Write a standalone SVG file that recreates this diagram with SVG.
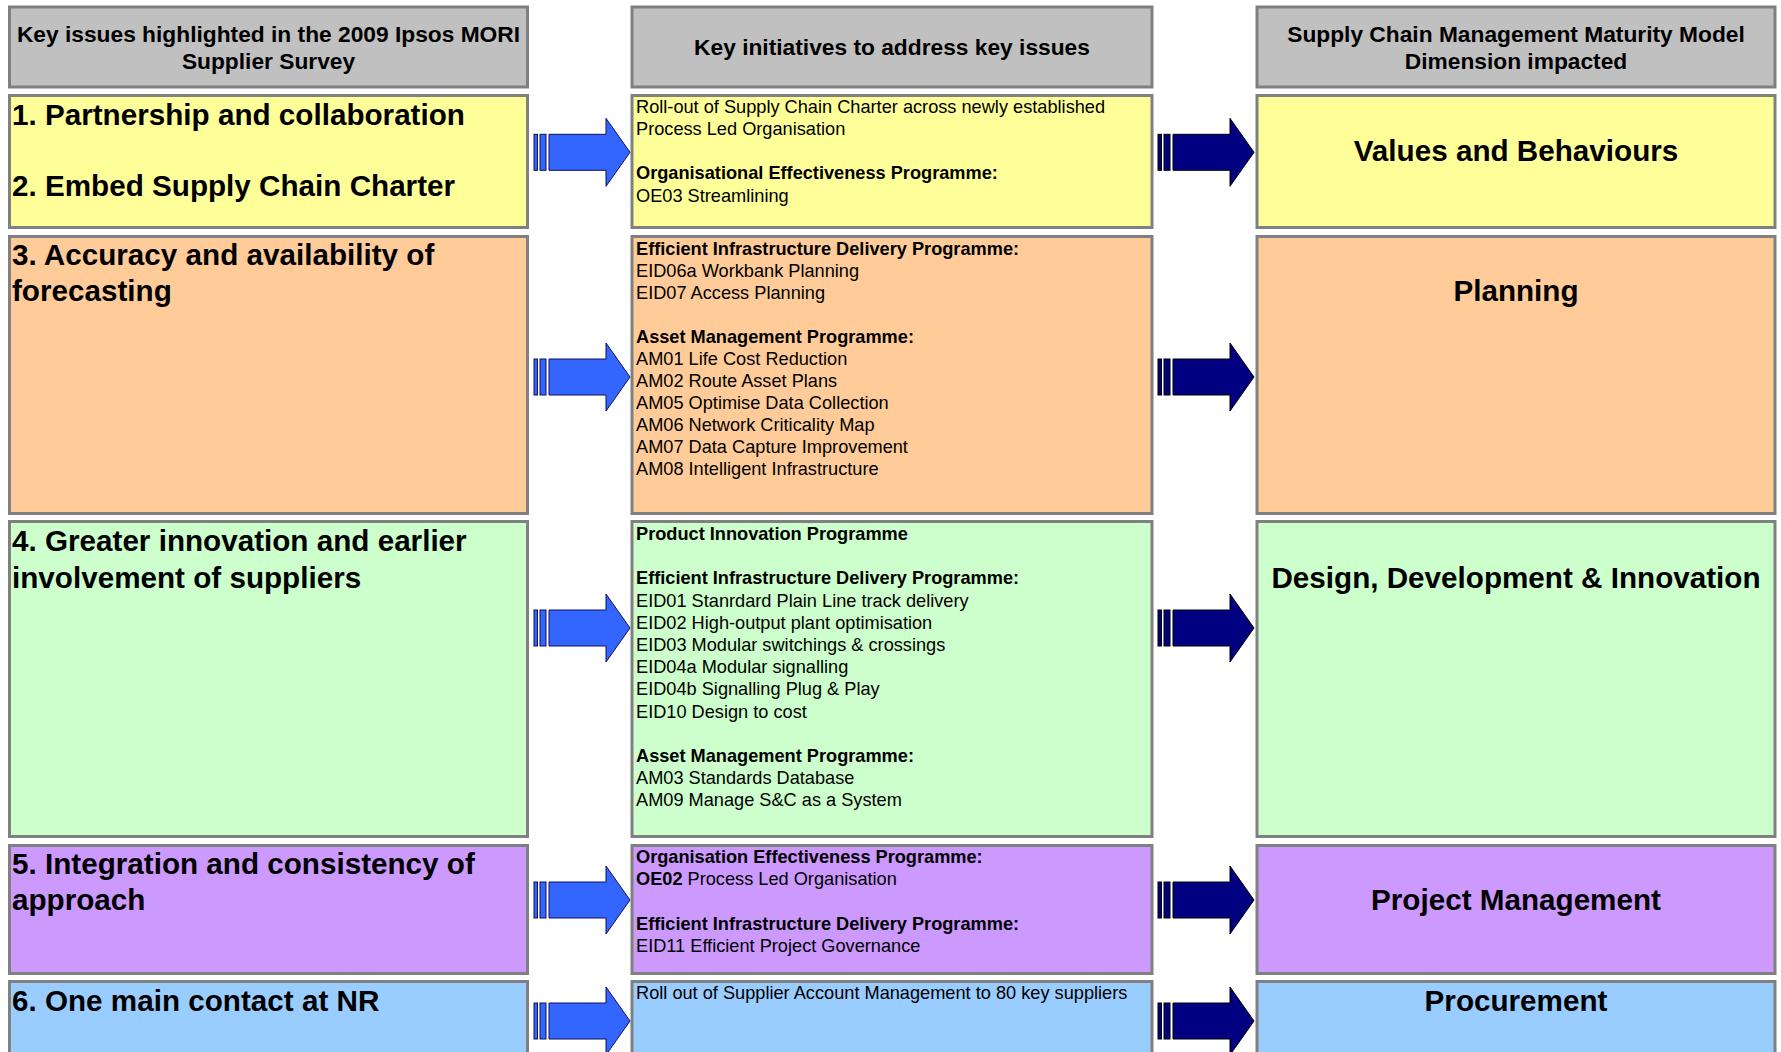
<svg xmlns="http://www.w3.org/2000/svg" xmlns:xlink="http://www.w3.org/1999/xlink" width="1781" height="1052" viewBox="0 0 1781 1052">
<style>
.box{stroke:#808080;stroke-width:3}
.hdr{fill:#C0C0C0}
.yel{fill:#FFFF99}
.org{fill:#FFCC99}
.grn{fill:#CCFFCC}
.pur{fill:#CC99FF}
.blu{fill:#99CCFF}
text{font-family:"Liberation Sans",Arial,sans-serif;fill:#000}
.ht{font-size:22.75px;font-weight:bold;text-anchor:middle}
.big{font-size:29.65px;font-weight:bold}
.mid{font-size:29.65px;font-weight:bold;text-anchor:middle}
.sm{font-size:18.2px}
.b{font-weight:bold}
</style>
<defs>
<g id="arrowBlue" fill="#3366FF" stroke="#10105a" stroke-width="1">
<rect x="0" y="-18" width="3.5" height="36"/>
<rect x="6" y="-18" width="6" height="36"/>
<polygon points="15,-18 72,-18 72,-34 96,0 72,34 72,18 15,18"/>
</g>
<g id="arrowDark" fill="#000080" stroke="#000000" stroke-width="1">
<rect x="0" y="-18" width="3.5" height="36"/>
<rect x="6" y="-18" width="6" height="36"/>
<polygon points="15,-18 72,-18 72,-34 96,0 72,34 72,18 15,18"/>
</g>
</defs>
<rect x="0" y="0" width="1781" height="1052" fill="#FFFFFF"/>

<g id="header-issues">
<rect class="box hdr" x="9.5" y="7" width="518" height="80"/>
<text class="ht" x="268.5" y="42">Key issues highlighted in the 2009 Ipsos MORI</text>
<text class="ht" x="268.5" y="69">Supplier Survey</text>
</g>
<g id="header-initiatives">
<rect class="box hdr" x="632" y="7" width="520" height="80"/>
<text class="ht" x="892" y="55">Key initiatives to address key issues</text>
</g>
<g id="header-dimension">
<rect class="box hdr" x="1257" y="7" width="518" height="80"/>
<text class="ht" x="1516" y="42">Supply Chain Management Maturity Model</text>
<text class="ht" x="1516" y="69">Dimension impacted</text>
</g>

<g id="issue-1-2">
<rect class="box yel" x="9.5" y="95.5" width="518" height="132"/>
<text class="big" x="12" y="125">1. Partnership and collaboration</text>
<text class="big" x="12" y="195.5">2. Embed Supply Chain Charter</text>
</g>
<g id="initiative-1">
<rect class="box yel" x="632" y="95.5" width="520" height="132"/>
<text class="sm" x="636" y="112.8">Roll-out of Supply Chain Charter across newly established<tspan x="636" dy="22.2">Process Led Organisation</tspan><tspan x="636" dy="44.4" class="b">Organisational Effectiveness Programme:</tspan><tspan x="636" dy="22.2">OE03 Streamlining</tspan></text>
</g>
<g id="dimension-values">
<rect class="box yel" x="1257" y="95.5" width="518" height="132"/>
<text class="mid" x="1516" y="160.5">Values and Behaviours</text>
</g>

<g id="issue-3">
<rect class="box org" x="9.5" y="236.5" width="518" height="277"/>
<text class="big" x="12" y="265">3. Accuracy and availability of</text>
<text class="big" x="12" y="301">forecasting</text>
</g>
<g id="initiative-2">
<rect class="box org" x="632" y="236.5" width="520" height="277"/>
<text class="sm" x="636" y="254.5"><tspan class="b">Efficient Infrastructure Delivery Programme:</tspan><tspan x="636" dy="22.05">EID06a Workbank Planning</tspan><tspan x="636" dy="22.05">EID07 Access Planning</tspan><tspan x="636" dy="44.1" class="b">Asset Management Programme:</tspan><tspan x="636" dy="22.05">AM01 Life Cost Reduction</tspan><tspan x="636" dy="22.05">AM02 Route Asset Plans</tspan><tspan x="636" dy="22.05">AM05 Optimise Data Collection</tspan><tspan x="636" dy="22.05">AM06 Network Criticality Map</tspan><tspan x="636" dy="22.05">AM07 Data Capture Improvement</tspan><tspan x="636" dy="22.05">AM08 Intelligent Infrastructure</tspan></text>
</g>
<g id="dimension-planning">
<rect class="box org" x="1257" y="236.5" width="518" height="277"/>
<text class="mid" x="1516" y="301">Planning</text>
</g>

<g id="issue-4">
<rect class="box grn" x="9.5" y="521.5" width="518" height="315"/>
<text class="big" x="12" y="551">4. Greater innovation and earlier</text>
<text class="big" x="12" y="587.5">involvement of suppliers</text>
</g>
<g id="initiative-3">
<rect class="box grn" x="632" y="521.5" width="520" height="315"/>
<text class="sm" x="636" y="540"><tspan class="b">Product Innovation Programme</tspan><tspan x="636" dy="44.4" class="b">Efficient Infrastructure Delivery Programme:</tspan><tspan x="636" dy="22.2">EID01 Stanrdard Plain Line track delivery</tspan><tspan x="636" dy="22.2">EID02 High-output plant optimisation</tspan><tspan x="636" dy="22.2">EID03 Modular switchings &amp; crossings</tspan><tspan x="636" dy="22.2">EID04a Modular signalling</tspan><tspan x="636" dy="22.2">EID04b Signalling Plug &amp; Play</tspan><tspan x="636" dy="22.2">EID10 Design to cost</tspan><tspan x="636" dy="44.4" class="b">Asset Management Programme:</tspan><tspan x="636" dy="22.2">AM03 Standards Database</tspan><tspan x="636" dy="22.2">AM09 Manage S&amp;C as a System</tspan></text>
</g>
<g id="dimension-design">
<rect class="box grn" x="1257" y="521.5" width="518" height="315"/>
<text class="mid" x="1516" y="587.5">Design, Development &amp; Innovation</text>
</g>

<g id="issue-5">
<rect class="box pur" x="9.5" y="845.5" width="518" height="128"/>
<text class="big" x="12" y="874">5. Integration and consistency of</text>
<text class="big" x="12" y="910">approach</text>
</g>
<g id="initiative-4">
<rect class="box pur" x="632" y="845.5" width="520" height="128"/>
<text class="sm" x="636" y="863"><tspan class="b">Organisation Effectiveness Programme:</tspan><tspan x="636" dy="22.2" class="b">OE02</tspan> Process Led Organisation<tspan x="636" dy="44.4" class="b">Efficient Infrastructure Delivery Programme:</tspan><tspan x="636" dy="22.2">EID11 Efficient Project Governance</tspan></text>
</g>
<g id="dimension-project">
<rect class="box pur" x="1257" y="845.5" width="518" height="128"/>
<text class="mid" x="1516" y="910">Project Management</text>
</g>

<g id="issue-6">
<rect class="box blu" x="9.5" y="981.5" width="518" height="100"/>
<text class="big" x="12" y="1011">6. One main contact at NR</text>
</g>
<g id="initiative-5">
<rect class="box blu" x="632" y="981.5" width="520" height="100"/>
<text class="sm" x="636" y="998.8">Roll out of Supplier Account Management to 80 key suppliers</text>
</g>
<g id="dimension-procurement">
<rect class="box blu" x="1257" y="981.5" width="518" height="100"/>
<text class="mid" x="1516" y="1011">Procurement</text>
</g>

<g id="connectors">
<use xlink:href="#arrowBlue" x="534" y="152.3"/>
<use xlink:href="#arrowBlue" x="534" y="377"/>
<use xlink:href="#arrowBlue" x="534" y="628"/>
<use xlink:href="#arrowBlue" x="534" y="900"/>
<use xlink:href="#arrowBlue" x="534" y="1021"/>
<use xlink:href="#arrowDark" x="1158" y="152.3"/>
<use xlink:href="#arrowDark" x="1158" y="377"/>
<use xlink:href="#arrowDark" x="1158" y="628"/>
<use xlink:href="#arrowDark" x="1158" y="900"/>
<use xlink:href="#arrowDark" x="1158" y="1021"/>
</g>
</svg>
